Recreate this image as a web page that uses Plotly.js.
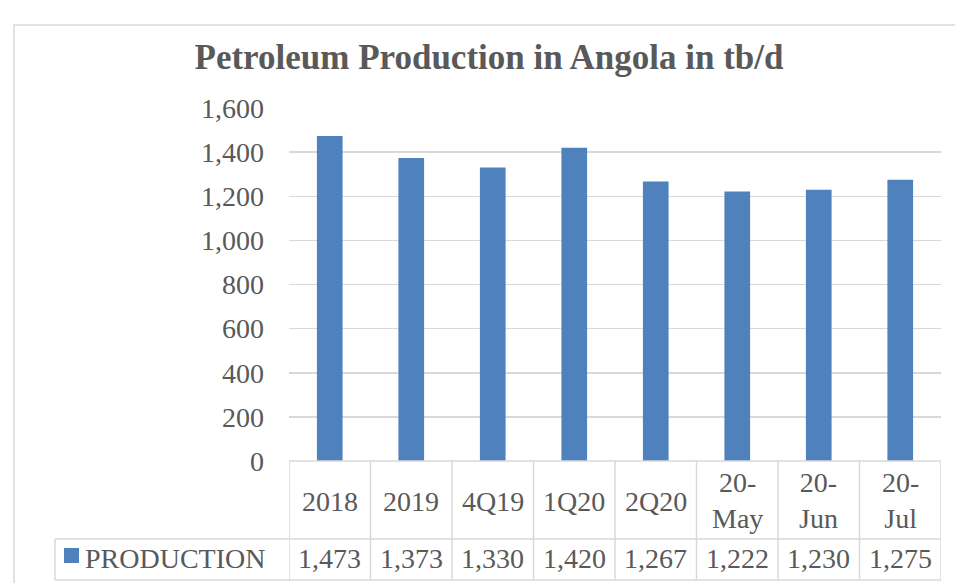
<!DOCTYPE html>
<html><head><meta charset="utf-8">
<script src="https://cdn.plot.ly/plotly-3.0.1.min.js"></script>
<style>html,body{margin:0;padding:0;background:#fff}#c{width:955px;height:583px}</style>
</head><body><div id="c"></div>
<script>
const categories = ['2018','2019','4Q19','1Q20','2Q20','20-May','20-Jun','20-Jul'];
const production = [1473,1373,1330,1420,1267,1222,1230,1275];
const seriesName = 'PRODUCTION';
const yTicks = [0,200,400,600,800,1000,1200,1400,1600];

const W=955,H=583,L=289,R=14,T=108,B=122;
const ph=H-T-B, pw=W-L-R;
const py = p => (H-B-p)/ph;      // pixel y -> paper y
const px = p => (p-L)/pw;        // pixel x -> paper x
const fmt = v => v.toLocaleString('en-US');
const txt = '#595959', grid='#d9d9d9', blue='#4F81BD';
const font = 'Liberation Serif, Times New Roman, serif';
const fs = 28;

const idx = categories.map((_,i)=>i);
const shapes = [];
shapes.push({type:'rect',xref:'paper',yref:'paper',x0:px(14),x1:px(975),y0:py(600),y1:py(25),line:{color:grid,width:1.5},layer:'below'});
const rowTop=461,rowMid=539,rowBot=580,legL=55;
shapes.push({type:'line',xref:'paper',yref:'paper',x0:0,x1:1,y0:py(rowTop),y1:py(rowTop),line:{color:grid,width:1.5}});
shapes.push({type:'line',xref:'paper',yref:'paper',x0:px(legL),x1:1,y0:py(rowMid),y1:py(rowMid),line:{color:grid,width:1.5}});
shapes.push({type:'line',xref:'paper',yref:'paper',x0:px(legL),x1:1,y0:py(rowBot),y1:py(rowBot),line:{color:grid,width:1.5}});
shapes.push({type:'line',xref:'paper',yref:'paper',x0:px(legL),x1:px(legL),y0:py(rowMid),y1:py(rowBot),line:{color:grid,width:1.5}});
for(let i=0;i<=categories.length;i++){
  shapes.push({type:'line',xref:'x',yref:'paper',x0:i-0.5,x1:i-0.5,y0:py(rowTop),y1:py(rowBot),line:{color:grid,width:1.5}});
}
shapes.push({type:'rect',xref:'paper',yref:'paper',x0:px(64),x1:px(79),y0:py(563),y1:py(548),fillcolor:blue,line:{width:0}});

const annotations = [];
categories.forEach((c,i)=>{
  const parts = c.match(/^(\d+-)(.+)$/);
  const label = parts ? parts[1]+'<br>'+parts[2] : c;
  annotations.push({xref:'x',yref:'paper',x:i,y:py(parts?500:501),text:label,showarrow:false,yanchor:'middle',xanchor:'center',font:{family:font,size:fs,color:txt}});
  annotations.push({xref:'x',yref:'paper',x:i,y:py(558),text:fmt(production[i]),showarrow:false,yanchor:'middle',xanchor:'center',font:{family:font,size:fs,color:txt}});
});
annotations.push({xref:'paper',yref:'paper',x:px(83),y:py(558),text:seriesName,showarrow:false,xanchor:'left',yanchor:'middle',font:{family:font,size:fs,color:txt}});

const data=[{type:'bar',x:idx,y:production,marker:{color:blue,line:{width:0}},hoverinfo:'skip',name:seriesName}];
const layout={
  width:W,height:H,margin:{l:L,r:R,t:T,b:B},
  paper_bgcolor:'#fff',plot_bgcolor:'#fff',showlegend:false,
  bargap:0.685,
  title:{text:'<b>Petroleum Production in Angola in tb/d</b>',font:{family:font,size:35,color:txt},xref:'container',x:489/W,xanchor:'center',yref:'container',y:1-57/H,yanchor:'middle'},
  xaxis:{range:[-0.5,categories.length-0.5],showticklabels:false,showgrid:false,zeroline:false,showline:false,ticks:''},
  yaxis:{range:[0,1600],tickvals:yTicks,ticktext:yTicks.map(fmt),showgrid:true,gridcolor:grid,gridwidth:1.5,zeroline:false,showline:false,ticks:'',ticklabelstandoff:24,tickfont:{family:font,size:fs,color:txt}},
  shapes:shapes,annotations:annotations
};
Plotly.newPlot('c',data,layout,{staticPlot:true,displayModeBar:false});
</script></body></html>
